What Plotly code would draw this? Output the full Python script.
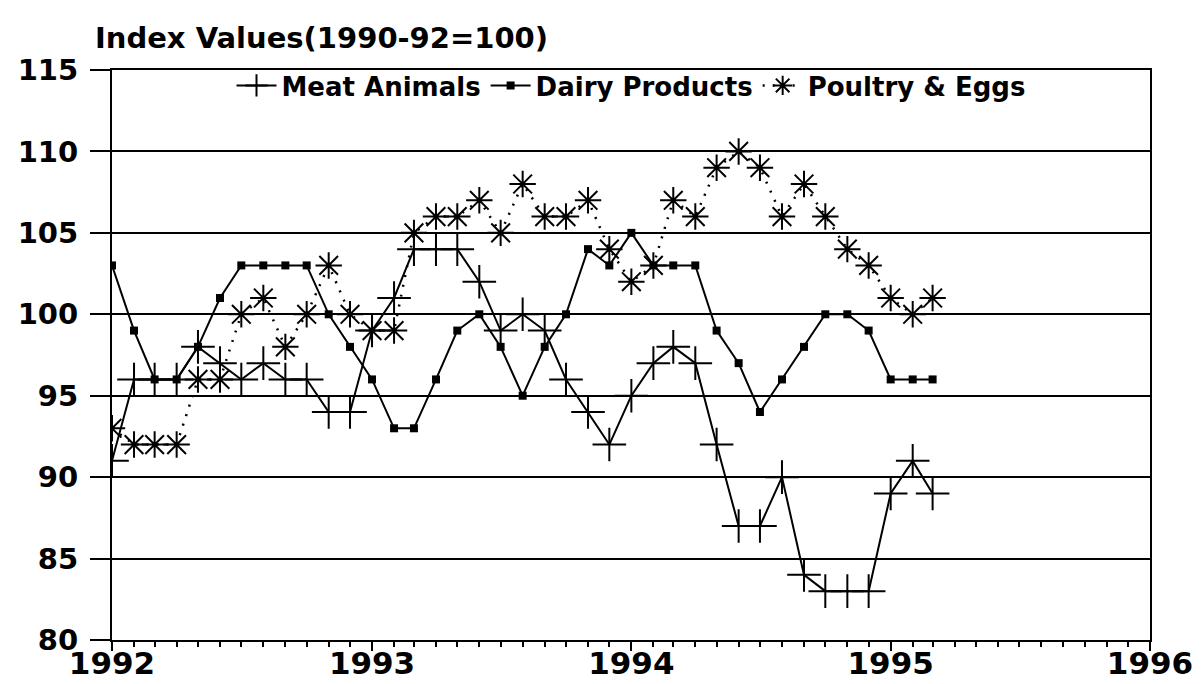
import pandas as pd
import plotly.graph_objects as go

months = pd.date_range("1992-01-01", periods=39, freq="MS")

meat_animals = [91, 96, 96, 96, 98, 97, 96, 97, 96, 96, 94, 94,
                99, 101, 104, 104, 104, 102, 99, 100, 99, 96, 94, 92,
                95, 97, 98, 97, 92, 87, 87, 90, 84, 83, 83, 83,
                89, 91, 89]
dairy_products = [103, 99, 96, 96, 98, 101, 103, 103, 103, 103, 100, 98,
                  96, 93, 93, 96, 99, 100, 98, 95, 98, 100, 104, 103,
                  105, 103, 103, 103, 99, 97, 94, 96, 98, 100, 100, 99,
                  96, 96, 96]
poultry_eggs = [93, 92, 92, 92, 96, 96, 100, 101, 98, 100, 103, 100,
                99, 99, 105, 106, 106, 107, 105, 108, 106, 106, 107, 104,
                102, 103, 107, 106, 109, 110, 109, 106, 108, 106, 104, 103,
                101, 100, 101]

y_ticks = [80, 85, 90, 95, 100, 105, 110, 115]
title_text = "Index Values(1990-92=100)"

FONT = "DejaVu Sans, Liberation Sans, sans-serif"
W, H = 1195, 676  # page body has an 8px margin

fig = go.Figure()
fig.add_trace(go.Scatter(
    x=months, y=meat_animals, name="<b>Meat Animals</b>", mode="lines+markers",
    line=dict(color="black", width=2),
    marker=dict(symbol="cross-thin", size=24, color="black",
                line=dict(color="black", width=2)),
))
fig.add_trace(go.Scatter(
    x=months, y=dairy_products, name="<b>Dairy Products</b>", mode="lines+markers",
    line=dict(color="black", width=2),
    marker=dict(symbol="square", size=8, color="black"),
))
fig.add_trace(go.Scatter(
    x=months, y=poultry_eggs, name="<b>Poultry & Eggs</b>", mode="lines+markers",
    line=dict(color="black", width=2.5, dash="2px,8px"),
    marker=dict(symbol="asterisk", size=22, color="black",
                line=dict(color="black", width=2)),
))

fig.update_layout(
    width=W, height=H,
    paper_bgcolor="white", plot_bgcolor="white",
    margin=dict(l=104, r=53, t=62, b=44, autoexpand=False),
    font=dict(family=FONT, color="black"),
    title=dict(text="<b>" + title_text + "</b>", xref="container", yref="container",
               x=87 / W, xanchor="left", y=1 - 30 / H, yanchor="middle",
               font=dict(size=29, family=FONT, color="black")),
    legend=dict(orientation="h", x=0.5, xanchor="center", y=1.014, yanchor="top",
                bgcolor="rgba(0,0,0,0)", font=dict(size=26, family=FONT, color="black"),
                itemwidth=40, tracegroupgap=0),
    showlegend=True,
)
fig.update_xaxes(
    type="date", range=["1992-01-01", "1996-01-01"], automargin=False,
    dtick="M12", tick0="1992-01-01", tickformat="<b>%Y</b>",
    tickfont=dict(size=31, family=FONT, color="black"),
    ticklabelstandoff=-14,
    showgrid=False, showline=True, linecolor="black", linewidth=2, mirror=True,
    ticks="outside", ticklen=9, tickwidth=2, tickcolor="black",
    minor=dict(dtick="M1", ticks="outside", ticklen=5, tickwidth=1.5, tickcolor="black", showgrid=False),
    zeroline=False,
)
fig.update_yaxes(
    range=[80, 115], tickvals=y_ticks, ticktext=["<b>%d</b>" % v for v in y_ticks],
    automargin=False, ticklabelstandoff=6,
    tickfont=dict(size=29, family=FONT, color="black"),
    showgrid=True, gridcolor="black", gridwidth=1.5,
    showline=True, linecolor="black", linewidth=2, mirror=True,
    ticks="outside", ticklen=20, tickwidth=2, tickcolor="black",
    zeroline=False,
)

fig.write_html("out.html")
